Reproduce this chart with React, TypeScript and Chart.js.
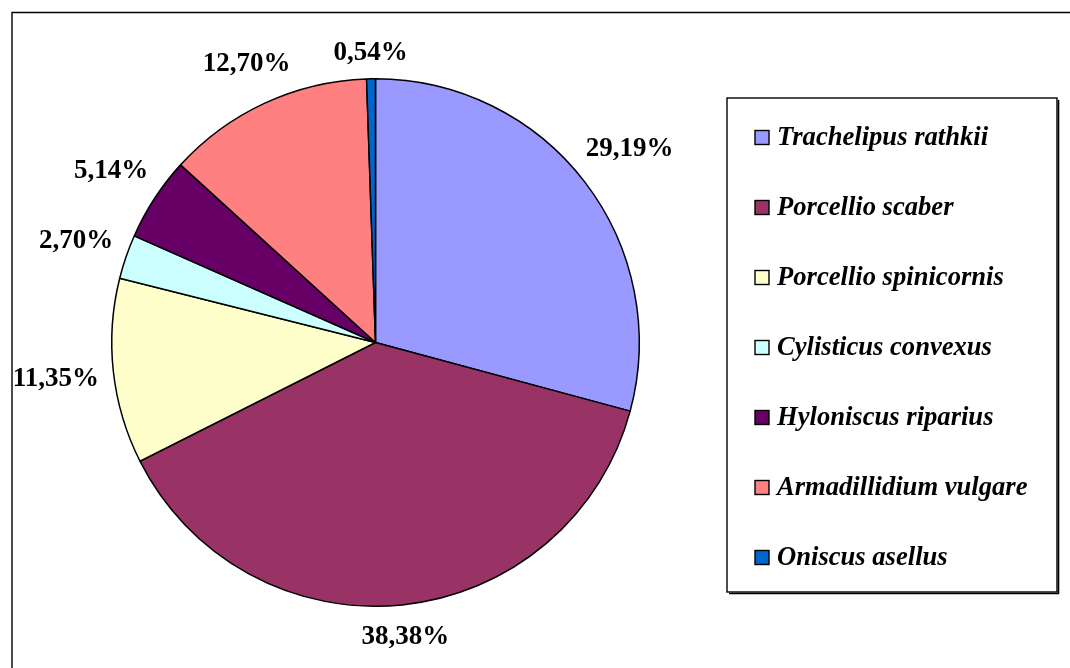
import React, { useEffect, useRef } from "react";
import { Chart, registerables } from "chart.js";

Chart.register(...registerables);

const species = [
  "Trachelipus rathkii",
  "Porcellio scaber",
  "Porcellio spinicornis",
  "Cylisticus convexus",
  "Hyloniscus riparius",
  "Armadillidium vulgare",
  "Oniscus asellus",
];
const shares = [29.19, 38.38, 11.35, 2.7, 5.14, 12.7, 0.54];
const percentLabels = ["29,19%", "38,38%", "11,35%", "2,70%", "5,14%", "12,70%", "0,54%"];
const sliceColors = ["#9999FF", "#993366", "#FFFFCC", "#CCFFFF", "#660066", "#FF8080", "#0066CC"];

const FONT = '"Liberation Serif", "Times New Roman", serif';

const framePlugin = {
  id: "frame",
  beforeDraw(chart: any) {
    const ctx = chart.ctx;
    ctx.save();
    ctx.fillStyle = "#ffffff";
    ctx.fillRect(0, 0, chart.width, chart.height);
    ctx.strokeStyle = "#000";
    ctx.lineWidth = 1.4;
    ctx.beginPath();
    ctx.moveTo(12, chart.height + 5);
    ctx.lineTo(12, 12.5);
    ctx.lineTo(chart.width + 5, 12.5);
    ctx.stroke();
    ctx.restore();
  },
};

const labelPlugin = {
  id: "outsideLabels",
  afterDatasetsDraw(chart: any) {
    const ctx = chart.ctx;
    const meta = chart.getDatasetMeta(0);
    ctx.save();
    ctx.font = `bold 27px ${FONT}`;
    ctx.fillStyle = "#000";
    ctx.textAlign = "center";
    ctx.textBaseline = "middle";
    meta.data.forEach((arc: any, i: number) => {
      const p = arc.getProps(["x", "y", "startAngle", "endAngle", "outerRadius"], true);
      const mid = (p.startAngle + p.endAngle) / 2;
      const c = Math.cos(mid);
      const s = Math.sin(mid);
      const text = percentLabels[i];
      const w = ctx.measureText(text).width;
      const h = 26;
      const r = p.outerRadius + 13.5 + (w / 2) * Math.abs(c) + (h / 2) * Math.abs(s);
      ctx.fillText(text, p.x + r * c, p.y + r * s + 1);
    });
    ctx.restore();
  },
};

const legendPlugin = {
  id: "boxLegend",
  afterDraw(chart: any) {
    const ctx = chart.ctx;
    const left = 727;
    const top = 98;
    const right = 1057;
    const bottom = 592;
    ctx.save();
    ctx.strokeStyle = "#000";
    ctx.lineWidth = 1.4;
    ctx.strokeRect(left, top, right - left, bottom - top);
    ctx.lineWidth = 1.6;
    ctx.beginPath();
    ctx.moveTo(right + 1.5, top + 2);
    ctx.lineTo(right + 1.5, bottom + 1.5);
    ctx.lineTo(left + 2, bottom + 1.5);
    ctx.stroke();

    const labels = chart.data.labels as string[];
    const colors = chart.data.datasets[0].backgroundColor as string[];
    const rowTop = 137.5;
    const rowGap = 70;
    ctx.font = `italic bold 26.6px ${FONT}`;
    ctx.textBaseline = "middle";
    ctx.textAlign = "left";
    labels.forEach((lab, i) => {
      const cy = rowTop + i * rowGap;
      ctx.fillStyle = colors[i];
      ctx.fillRect(755, cy - 7, 14, 14);
      ctx.lineWidth = 1.4;
      ctx.strokeStyle = "#000";
      ctx.strokeRect(755, cy - 7, 14, 14);
      ctx.fillStyle = "#000";
      ctx.fillText(lab, 777, cy + 1);
    });
    ctx.restore();
  },
};

export default function App() {
  const ref = useRef<HTMLCanvasElement>(null);
  useEffect(() => {
    if (!ref.current) return;
    const chart = new Chart(ref.current, {
      type: "pie",
      data: {
        labels: species,
        datasets: [
          {
            data: shares,
            backgroundColor: sliceColors,
            borderColor: "#000",
            borderWidth: 1.5,
          },
        ],
      },
      options: {
        responsive: false,
        animation: false,
        devicePixelRatio: 1,
        layout: { padding: { left: 111, right: 430, top: 78, bottom: 61 } },
        plugins: {
          legend: { display: false },
          tooltip: { enabled: false },
        },
      },
      plugins: [framePlugin, labelPlugin, legendPlugin],
    });
    return () => chart.destroy();
  }, []);
  return (
    <div style={{ position: "fixed", left: 0, top: 0, width: 1070, height: 668, background: "#fff" }}>
      <canvas ref={ref} width={1070} height={668} style={{ width: 1070, height: 668, display: "block" }} />
    </div>
  );
}
